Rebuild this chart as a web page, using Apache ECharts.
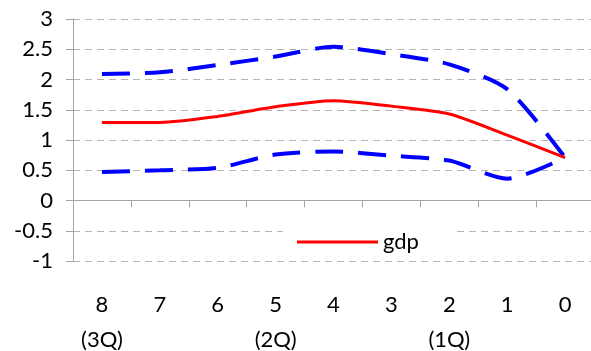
<!DOCTYPE html>
<html>
<head>
<meta charset="utf-8">
<script src="https://cdn.jsdelivr.net/npm/echarts@6/dist/echarts.min.js"></script>
<style>
  html, body { margin: 0; padding: 0; background: #fff; }
  #chart { width: 591px; height: 351px; }
</style>
</head>
<body>
<div id="chart"></div>
<script>
// horizon (quarters back) and quarter marks
const categories = ["8", "7", "6", "5", "4", "3", "2", "1", "0"];
const quarterTags = ["(3Q)", "", "", "(2Q)", "", "", "(1Q)", "", ""];

const gdp = [1.29, 1.29, 1.39, 1.55, 1.65, 1.56, 1.43, 1.08, 0.71];
const upperBand = [2.09, 2.12, 2.24, 2.38, 2.54, 2.42, 2.25, 1.84, 0.71];
const lowerBand = [0.47, 0.50, 0.54, 0.76, 0.81, 0.74, 0.66, 0.36, 0.71];

const yTicks = { min: -1, max: 3, interval: 0.5 };

const font = "Lato";
const gray = "#a6a6a6";

let myChart = echarts.init(document.getElementById("chart"));

let option = {
  backgroundColor: "#fff",
  animation: false,
  textStyle: { fontFamily: font },
  grid: {
    left: 73, right: -3, top: 19, bottom: 90,
    containLabel: false,
    outerBoundsMode: "none"
  },
  legend: {
    data: ["gdp"],
    left: 283,
    top: 226,
    icon: "rect",
    itemWidth: 81,
    itemHeight: 3,
    itemGap: 6,
    padding: [5, 36, 5, 14],
    backgroundColor: "#fff",
    textStyle: { fontFamily: font, fontSize: 22, color: "#000" }
  },
  xAxis: [
    {
      type: "category",
      data: categories,
      boundaryGap: true,
      axisLine: { onZero: true, lineStyle: { color: gray, width: 1 } },
      axisTick: { show: true, length: 7, lineStyle: { color: gray } },
      axisLabel: { show: false },
      splitLine: { show: false }
    },
    {
      type: "category",
      data: categories,
      position: "bottom",
      boundaryGap: true,
      axisLine: { show: false, onZero: false },
      axisTick: { show: false },
      axisLabel: {
        margin: 26,
        fontFamily: font,
        fontSize: 22,
        lineHeight: 35,
        color: "#000",
        formatter: function (v, i) {
          return quarterTags[i] ? v + "\n" + quarterTags[i] : v;
        }
      }
    }
  ],
  yAxis: {
    type: "value",
    min: yTicks.min,
    max: yTicks.max,
    interval: yTicks.interval,
    axisLine: { show: true, lineStyle: { color: gray, width: 1 } },
    axisTick: { show: true, length: 7, lineStyle: { color: gray } },
    axisLabel: { margin: 20, fontFamily: font, fontSize: 22, color: "#000" },
    splitLine: { show: true, lineStyle: { color: "#b4b4b4", type: [7, 5], width: 1 } }
  },
  series: [
    {
      name: "upper",
      type: "line",
      data: upperBand,
      smooth: 0.25,
      symbol: "none",
      lineStyle: { color: "#0000ff", width: 4, type: [28, 15] },
      z: 3
    },
    {
      name: "lower",
      type: "line",
      data: lowerBand,
      smooth: 0.25,
      symbol: "none",
      lineStyle: { color: "#0000ff", width: 4, type: [28, 15] },
      z: 3
    },
    {
      name: "gdp",
      type: "line",
      data: gdp,
      smooth: 0.25,
      symbol: "none",
      itemStyle: { color: "#ff0000" },
      lineStyle: { color: "#ff0000", width: 3 },
      z: 4
    }
  ]
};

myChart.setOption(option);
</script>
</body>
</html>
